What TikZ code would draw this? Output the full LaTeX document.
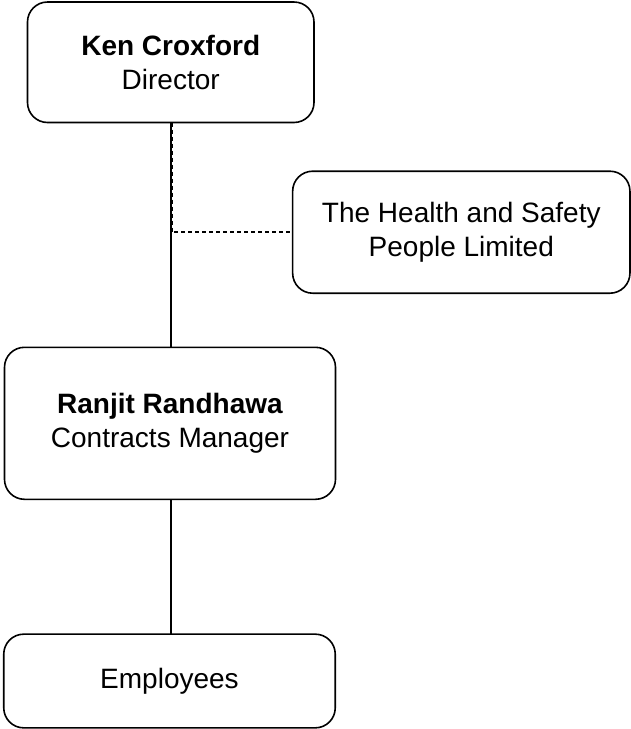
\documentclass[tikz,border=0pt]{standalone}
\usepackage{fontspec}
\setmainfont{Liberation Sans}
\begin{document}
\begin{tikzpicture}[x=1pt,y=-1pt,
  box/.style={draw=black, line width=1.6pt, rounded corners=20pt, inner sep=0pt, outer sep=0pt,
    align=center, font=\fontsize{28}{34.5}\selectfont},
  conn/.style={draw=black, line width=1.6pt},
  dashconn/.style={draw=black, line width=1.6pt, dash pattern=on 4pt off 3pt}]
\useasboundingbox (0,0) rectangle (631,729);
\node[box, minimum width=286.5pt, minimum height=120.5pt] (ken) at (170.75,62.25) {\textbf{Ken Croxford}\\Director};
\node[box, minimum width=337.3pt, minimum height=122pt] (hs) at (461.3,232.2) {The Health and Safety\\People Limited};
\node[box, minimum width=331pt, minimum height=152pt] (ranjit) at (170,423.3) {\textbf{Ranjit Randhawa}\\Contracts Manager};
\node[box, minimum width=331.5pt, minimum height=93.7pt] (emp) at (169.5,681) {Employees};
\draw[conn] (ken.south) -- (ken.south |- ranjit.north);
\draw[conn] (ranjit.south -| ken.south) -- (ken.south |- emp.north);
\draw[dashconn] ([xshift=1.2pt]ken.south) |- (hs.west);
\end{tikzpicture}
\end{document}
